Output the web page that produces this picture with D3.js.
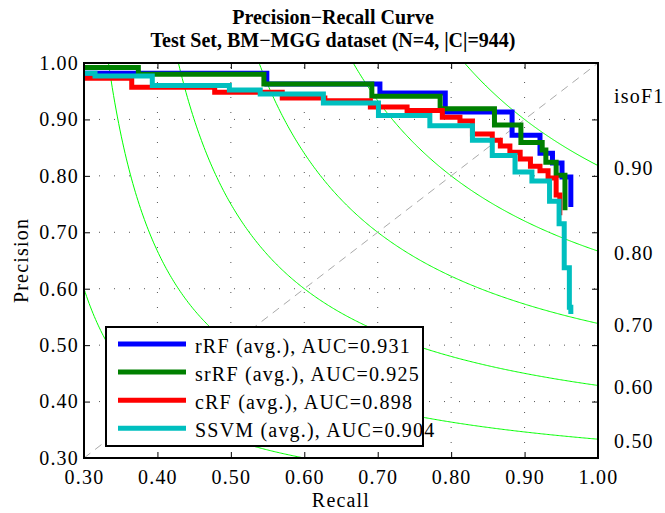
<!DOCTYPE html>
<html>
<head>
<meta charset="utf-8">
<script src="https://cdnjs.cloudflare.com/ajax/libs/d3/7.8.5/d3.min.js"></script>
<style>
  body { margin: 0; background: #fff; }
  text { font-family: "Liberation Serif", "Times New Roman", serif; fill: #000; }
  .lbl { font-size: 20px; letter-spacing: 1.2px; }
</style>
</head>
<body>
<div class="vizHolder"></div>
<script>
var width = 665,
    height = 513,
    margin = {top: 63, right: 67, bottom: 55, left: 84};

// series: [recall, precision] at each step
var rRF = [[0.300, 0.982], [0.549, 0.963], [0.703, 0.947], [0.792, 0.913], [0.883, 0.872],
           [0.921, 0.840], [0.938, 0.823], [0.951, 0.798], [0.963, 0.745]];
var srRF = [[0.300, 0.992], [0.374, 0.980], [0.545, 0.963], [0.692, 0.941], [0.785, 0.919],
            [0.859, 0.890], [0.895, 0.859], [0.924, 0.846], [0.929, 0.824], [0.943, 0.801],
            [0.955, 0.739]];
var cRF = [[0.300, 0.973], [0.365, 0.957], [0.478, 0.948], [0.570, 0.938], [0.628, 0.933],
           [0.690, 0.922], [0.740, 0.916], [0.788, 0.904], [0.812, 0.897], [0.829, 0.874],
           [0.856, 0.863], [0.867, 0.853], [0.880, 0.842], [0.894, 0.830], [0.908, 0.817],
           [0.921, 0.809], [0.932, 0.796], [0.943, 0.766], [0.948, 0.730]];
var SSVM = [[0.300, 0.982], [0.315, 0.977], [0.393, 0.960], [0.498, 0.952], [0.540, 0.945],
            [0.626, 0.929], [0.701, 0.907], [0.771, 0.889], [0.829, 0.863], [0.856, 0.836],
            [0.887, 0.807], [0.910, 0.791], [0.934, 0.755], [0.947, 0.715], [0.954, 0.637],
            [0.961, 0.567], [0.963, 0.555]];

var seriesNames = ['rRF (avg.), AUC=0.931', 'srRF (avg.), AUC=0.925',
                   'cRF (avg.), AUC=0.898', 'SSVM (avg.), AUC=0.904'];
var seriesColors = ['#0000ff', '#008000', '#ff0000', '#00bfbf'];
var seriesData = [rRF, srRF, cRF, SSVM];

// iso-F1 levels and tick values
var isoLevels = [0.3, 0.4, 0.5, 0.6, 0.7, 0.8, 0.9];
var isoLabels = [0.9, 0.8, 0.7, 0.6, 0.5];
var ticks = [0.3, 0.4, 0.5, 0.6, 0.7, 0.8, 0.9, 1.0];

var svg = d3.select('.vizHolder')
            .append('svg')
            .attr('width', width)
            .attr('height', height);

var x = d3.scaleLinear().domain([0.3, 1]).range([margin.left, width - margin.right]);
var y = d3.scaleLinear().domain([0.3, 1]).range([height - margin.bottom, margin.top]);

svg.append('clipPath').attr('id', 'plot')
   .append('rect')
   .attr('x', x(0.3)).attr('y', y(1))
   .attr('width', x(1) - x(0.3)).attr('height', y(0.3) - y(1));

//grid
var grid = svg.append('g').attr('stroke', '#555').attr('stroke-dasharray', '1 14');
grid.selectAll('.gx').data(ticks.slice(1, -1)).enter().append('line')
    .attr('x1', d => x(d)).attr('x2', d => x(d))
    .attr('y1', y(0.3)).attr('y2', y(1));
grid.selectAll('.gy').data(ticks.slice(1, -1)).enter().append('line')
    .attr('y1', d => y(d)).attr('y2', d => y(d))
    .attr('x1', x(0.3)).attr('x2', x(1));

var plot = svg.append('g').attr('clip-path', 'url(#plot)');

//iso-F1 curves  p = f*r / (2r - f)
var line = d3.line().x(d => x(d[0])).y(d => y(d[1]));
isoLevels.forEach(function(f){
    var r0 = Math.max(f / 2 + 0.001, 0.3);
    var pts = d3.range(0, 401).map(function(i){
        var r = r0 + i * (1 - r0) / 400;
        return [r, Math.min(f * r / (2 * r - f), 1.5)];
    });
    plot.append('path')
        .attr('d', line(pts))
        .attr('fill', 'none')
        .attr('stroke', '#00ff00')
        .attr('stroke-width', 1);
});

//diagonal
plot.append('line')
    .attr('x1', x(0.3)).attr('y1', y(0.3))
    .attr('x2', x(1)).attr('y2', y(1))
    .attr('stroke', '#aaa')
    .attr('stroke-dasharray', '8 6');

//curves
var stepLine = d3.line().x(d => x(d[0])).y(d => y(d[1])).curve(d3.curveStepAfter);
seriesData.forEach(function(s, i){
    plot.append('path')
        .attr('d', stepLine(s))
        .attr('fill', 'none')
        .attr('stroke', seriesColors[i])
        .attr('stroke-width', 5);
});

//axes, ticks point inward
var fmt = d3.format('.2f');
function styleAxis(g){
    g.select('.domain').remove();
    g.selectAll('.tick line').attr('stroke', '#000');
    g.selectAll('.tick text').attr('class', 'lbl').attr('fill', '#000');
}
svg.append('g').attr('transform', 'translate(0,' + y(0.3) + ')')
   .call(d3.axisBottom(x).tickValues(ticks).tickFormat(fmt).tickSize(-6).tickPadding(12))
   .call(styleAxis);
svg.append('g').attr('transform', 'translate(0,' + y(1) + ')')
   .call(d3.axisTop(x).tickValues(ticks).tickFormat('').tickSize(-6))
   .call(styleAxis);
svg.append('g').attr('transform', 'translate(' + x(0.3) + ',0)')
   .call(d3.axisLeft(y).tickValues(ticks).tickFormat(fmt).tickSize(-6).tickPadding(5))
   .call(styleAxis);
svg.append('g').attr('transform', 'translate(' + x(1) + ',0)')
   .call(d3.axisRight(y).tickValues(ticks).tickFormat('').tickSize(-6))
   .call(styleAxis);

svg.append('rect')
   .attr('x', x(0.3)).attr('y', y(1))
   .attr('width', x(1) - x(0.3)).attr('height', y(0.3) - y(1))
   .attr('fill', 'none').attr('stroke', '#000').attr('stroke-width', 2);

//isoF1 labels at the right edge
svg.append('text')
   .attr('class', 'lbl')
   .attr('x', x(1) + 16).attr('y', 103)
   .text('isoF1');
svg.selectAll('.iso').data(isoLabels).enter().append('text')
   .attr('class', 'lbl')
   .attr('x', x(1) + 16)
   .attr('y', d => y(d / (2 - d)) + 9)
   .text(d => fmt(d));

//legend
var legend = svg.append('g');
legend.append('rect')
      .attr('x', 106).attr('y', 327).attr('width', 317).attr('height', 119)
      .attr('fill', '#fff').attr('stroke', '#000').attr('stroke-width', 2);
seriesNames.forEach(function(name, i){
    var ly = 344 + i * 28.1;
    legend.append('line')
          .attr('x1', 118).attr('x2', 186).attr('y1', ly).attr('y2', ly)
          .attr('stroke', seriesColors[i]).attr('stroke-width', 5);
    legend.append('text')
          .attr('class', 'lbl')
          .attr('x', 195).attr('y', ly + 9)
          .text(name);
});

//titles
svg.append('text')
   .attr('x', 333).attr('y', 24)
   .attr('text-anchor', 'middle')
   .style('font-size', '20px').style('font-weight', 'bold')
   .text('Precision\u2212Recall Curve');
svg.append('text')
   .attr('x', 333).attr('y', 47)
   .attr('text-anchor', 'middle')
   .style('font-size', '20px').style('font-weight', 'bold')
   .text('Test Set, BM\u2212MGG dataset (N=4, |C|=944)');

svg.append('text')
   .attr('class', 'lbl')
   .attr('x', x(0.65)).attr('y', 507)
   .attr('text-anchor', 'middle')
   .text('Recall');
svg.append('text')
   .attr('class', 'lbl')
   .attr('transform', 'rotate(-90)')
   .attr('x', -y(0.65)).attr('y', 28)
   .attr('text-anchor', 'middle')
   .text('Precision');
</script>
</body>
</html>
